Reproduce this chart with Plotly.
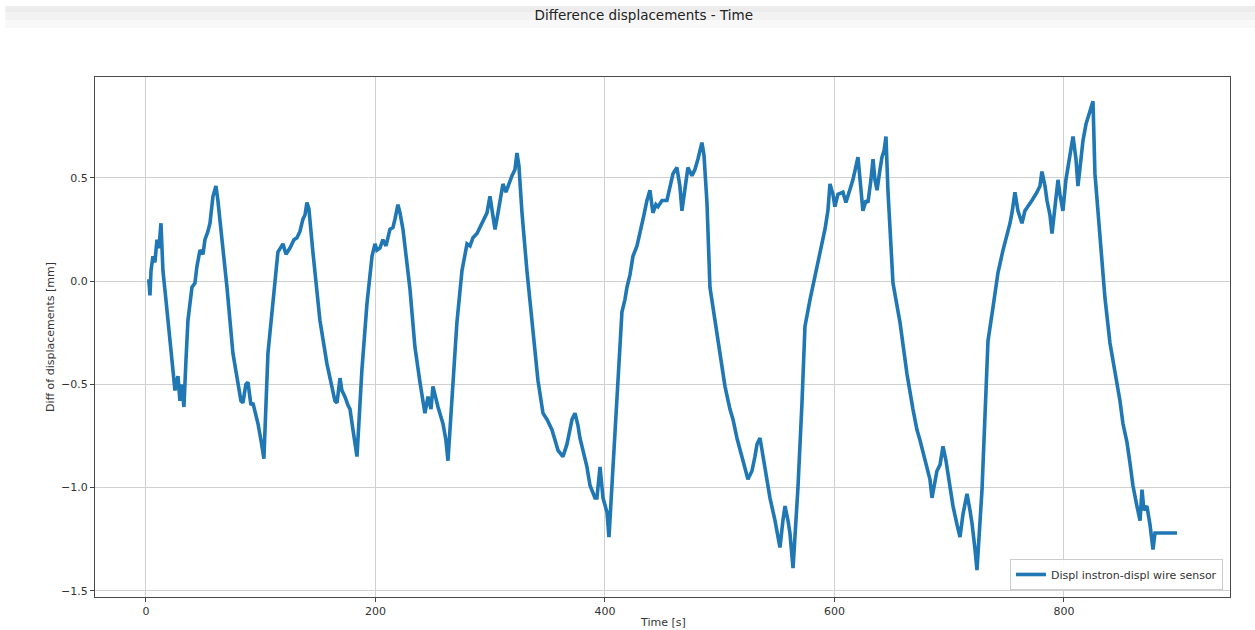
import plotly.graph_objects as go

# Time [s] and difference of displacements [mm]
time_s = [
    1, 2.6, 3.5, 4.4, 6.1, 7.8, 9.6, 11.3, 13.1, 14.8, 17.4, 20.9, 23.5, 25.3, 27.9, 29.6, 31.4, 33.1,
    34.9, 36.6, 40.1, 42.7, 44.4, 47.1, 49.7, 51.4, 54.0, 55.8, 58.4, 61.0, 62.7,
    64.5, 70.6, 75.8, 80.2, 82.8, 84.5, 87.1, 88.9, 91.5, 93.2, 97.6, 100.2, 102.8,
    106.3, 110.7, 115.0, 119.4, 122.0, 125.5, 129.0, 131.6, 134.2, 136.8, 138.6, 140.3, 142.0,
    145.5, 151.6, 157.7, 162.1, 164.7, 166.5, 169.1, 170.8, 173.4, 176.0, 177.8, 180.4, 183.9,
    188.2, 192.6, 197.0, 199.6, 201.3, 203.9, 206.5, 209.2, 212.6, 215.3, 217.0, 219.6, 221.4,
    224.0, 230.1, 234.4, 238.8, 243.1, 245.8, 248.4, 250.1, 252.7, 254.5, 258.8, 261.4, 263.2,
    266.7, 271.0, 275.4, 279.8, 282.4, 285.0, 288.5, 291.1, 294.6, 297.2, 299.8, 302.4, 304.2,
    306.8, 308.5, 311.1, 313.7, 317.2, 319.0, 321.6, 323.3, 325.0,
    327.7, 332.0, 337.3, 341.6, 346.0, 349.5, 353.8, 356.5, 359.1, 363.4, 366.9, 369.5, 371.3,
    373.9, 376.5, 378.2, 381.7, 384.3, 387.0, 388.7, 391.3, 393.0, 395.7, 398.3, 400.0, 401.8, 403.5,
    407.0, 411.3, 414.8, 417.4, 419.2, 421.8, 424.4, 427.9, 430.5, 434.0, 436.6, 439.2, 441.8,
    444.4, 446.2, 449.7, 454.0, 456.6, 459.3, 462.7, 465.3, 467.1, 469.7, 472.3, 475.8, 478.4,
    481.0, 484.5, 486.3,
    488.9, 491.5, 495.9, 500.2, 504.6, 508.9, 511.6, 515.0, 517.6, 520.3, 524.6, 528.1, 530.7,
    532.5, 535.1, 537.7, 539.4, 543.8, 548.2, 550.8, 552.5, 555.1, 556.9, 559.5, 561.2, 563.9,
    568.2, 571.7, 574.3, 578.7, 583.0, 587.4, 591.7, 594.3, 596.1, 598.7, 600.4, 603.0, 607.4,
    610.0, 613.5, 616.1, 620.5, 623.1, 624.8, 627.5, 629.2, 631.8, 633.6, 635.3, 637.1, 639.7,
    641.4, 643.2, 644.9,
    646.6, 651.0, 657.1, 663.2, 668.4, 671.9, 674.5, 678.0, 680.6, 683.2, 685.0, 687.6, 689.3,
    692.0, 694.6, 697.2, 698.9, 703.3, 706.8, 709.4, 712.0, 715.5, 718.1, 719.8, 722.5, 724.2,
    728.6, 731.2, 733.8, 738.1, 742.5, 746.9, 749.5, 753.0, 754.7, 757.3, 759.9, 763.4, 766.0,
    768.6, 772.1, 776.5, 779.1, 780.8, 783.5, 785.2, 787.8, 789.6, 792.2, 794.8, 796.5, 799.1,
    801.7, 805.2, 807.9, 810.5, 812.2, 814.8, 816.6, 819.2, 820.9, 823.5, 825.3,
    827.0, 831.4, 835.7, 840.1, 843.5, 846.2, 848.8, 851.4, 854.9, 857.5, 860.1, 863.6, 866.3,
    868.0, 869.7, 872.3, 875.0, 877.6, 879.3, 888.1, 898.5,
]
diff_mm = [
    0.00, 0.00, -0.07, 0.05, 0.12, 0.09, 0.20, 0.16, 0.28, 0.05, -0.09, -0.27, -0.43, -0.53, -0.46, -0.58, -0.50, -0.61,
    -0.38, -0.19, -0.03, -0.01, 0.07, 0.15, 0.13, 0.20, 0.24, 0.28, 0.41, 0.46, 0.39,
    0.30, -0.03, -0.35, -0.51, -0.58, -0.59, -0.50, -0.49, -0.60, -0.59, -0.69, -0.77, -0.86,
    -0.35, -0.11, 0.14, 0.18, 0.13, 0.16, 0.20, 0.21, 0.24, 0.30, 0.32, 0.38, 0.35,
    0.14, -0.19, -0.40, -0.51, -0.58, -0.59, -0.47, -0.53, -0.56, -0.60, -0.62, -0.72, -0.85,
    -0.43, -0.11, 0.12, 0.18, 0.15, 0.16, 0.20, 0.17, 0.25, 0.26, 0.30, 0.37, 0.33,
    0.25, -0.04, -0.32, -0.49, -0.64, -0.56, -0.62, -0.51, -0.58, -0.61, -0.69, -0.77, -0.87,
    -0.56, -0.20, 0.05, 0.18, 0.17, 0.21, 0.23, 0.26, 0.30, 0.33, 0.41, 0.32, 0.25,
    0.33, 0.39, 0.47, 0.43, 0.49, 0.51, 0.54, 0.62, 0.56,
    0.33, 0.05, -0.24, -0.48, -0.64, -0.67, -0.72, -0.78, -0.82, -0.85, -0.79, -0.72, -0.67,
    -0.64, -0.70, -0.76, -0.84, -0.90, -0.99, -1.01, -1.05, -1.05, -0.90, -1.05, -1.08, -1.12, -1.24,
    -0.90, -0.42, -0.15, -0.09, -0.03, 0.03, 0.12, 0.17, 0.23, 0.32, 0.39, 0.44, 0.33,
    0.37, 0.36, 0.39, 0.39, 0.46, 0.52, 0.55, 0.46, 0.34, 0.46, 0.55, 0.51, 0.54,
    0.59, 0.67, 0.61,
    0.38, -0.03, -0.19, -0.35, -0.51, -0.62, -0.67, -0.76, -0.82, -0.87, -0.96, -0.92, -0.85,
    -0.79, -0.76, -0.84, -0.90, -1.05, -1.16, -1.25, -1.29, -1.16, -1.09, -1.16, -1.22, -1.39,
    -1.00, -0.59, -0.22, -0.09, 0.02, 0.14, 0.25, 0.34, 0.47, 0.42, 0.36, 0.42, 0.43,
    0.38, 0.44, 0.49, 0.60, 0.46, 0.34, 0.39, 0.38, 0.49, 0.59, 0.49, 0.44, 0.54,
    0.60, 0.63, 0.70,
    0.44, -0.01, -0.20, -0.45, -0.62, -0.72, -0.77, -0.84, -0.90, -0.96, -1.05, -0.96, -0.92,
    -0.89, -0.80, -0.87, -0.93, -1.09, -1.18, -1.24, -1.13, -1.03, -1.11, -1.17, -1.30, -1.40,
    -1.01, -0.61, -0.29, -0.13, 0.04, 0.15, 0.20, 0.28, 0.33, 0.43, 0.34, 0.28, 0.34,
    0.36, 0.39, 0.43, 0.46, 0.53, 0.46, 0.39, 0.32, 0.23, 0.37, 0.49, 0.42, 0.34,
    0.49, 0.60, 0.70, 0.59, 0.46, 0.59, 0.68, 0.76, 0.79, 0.83, 0.87,
    0.52, 0.20, -0.08, -0.30, -0.41, -0.48, -0.58, -0.69, -0.78, -0.88, -0.99, -1.09, -1.16,
    -1.01, -1.11, -1.09, -1.18, -1.30, -1.22, -1.22, -1.22,
]

x_ticks = [0, 200, 400, 600, 800]
y_ticks = [-1.5, -1.0, -0.5, 0.0, 0.5]
series_name = "Displ instron-displ wire sensor"

FONT = "DejaVu Sans"
BLUE = "#1f77b4"

fig = go.Figure()
fig.add_trace(go.Scatter(
    x=time_s, y=diff_mm, mode="lines", name=series_name,
    line=dict(color=BLUE, width=3.6),
    showlegend=True,
))

axis_common = dict(
    showgrid=True, gridcolor="#d0d0d0", gridwidth=1,
    zeroline=False, showline=True, linecolor="#4a4a4a", linewidth=1.2, mirror=True,
    ticks="outside", ticklen=4, tickcolor="#444444", tickwidth=1,
    tickfont=dict(family=FONT, size=11, color="#333333"),
)

fig.update_layout(
    width=1255, height=630,
    margin=dict(l=95, r=25, t=77, b=33),
    paper_bgcolor="white", plot_bgcolor="white",
    font=dict(family=FONT, color="#333333"),
    title=dict(text="Difference displacements - Time", x=0.513, xanchor="center",
               y=1 - 15 / 630, yanchor="middle", yref="container",
               font=dict(family=FONT, size=13.5, color="#222222")),
    xaxis=dict(range=[-44.4, 944.7], tickvals=x_ticks, tickformat="d", **axis_common),
    yaxis=dict(range=[-1.530, 0.988], tickvals=y_ticks, tickformat=".1f", **axis_common),
    legend=dict(x=0.9938, xanchor="right", y=0.0135, yanchor="bottom",
                bgcolor="rgba(255,255,255,0.9)", bordercolor="#cccccc", borderwidth=1,
                font=dict(family=FONT, size=11, color="#333333")),
    annotations=[
        dict(text="Time [s]", x=0.5, xref="paper", y=-(622 - 597) / 520, yref="paper",
             xanchor="center", yanchor="middle", showarrow=False,
             font=dict(family=FONT, size=11, color="#333333")),
        dict(text="Diff of displacements [mm]", x=-(95 - 50) / 1135, xref="paper",
             y=(597 - 337) / 520, yref="paper", textangle=-90,
             xanchor="center", yanchor="middle", showarrow=False,
             font=dict(family=FONT, size=11, color="#333333")),
    ],
    shapes=[
        dict(type="rect", xref="paper", yref="paper", x0=-0.079, x1=1.022,
             y0=(597 - 12) / 520, y1=(597 - 6) / 520, fillcolor="#ececec", line=dict(width=0), layer="below"),
        dict(type="rect", xref="paper", yref="paper", x0=-0.079, x1=1.022,
             y0=(597 - 20) / 520, y1=(597 - 12) / 520, fillcolor="#f2f2f2", line=dict(width=0), layer="below"),
        dict(type="rect", xref="paper", yref="paper", x0=-0.079, x1=1.022,
             y0=(597 - 28) / 520, y1=(597 - 20) / 520, fillcolor="#f8f8f8", line=dict(width=0), layer="below"),
    ],
)

fig.write_html("out.html")
